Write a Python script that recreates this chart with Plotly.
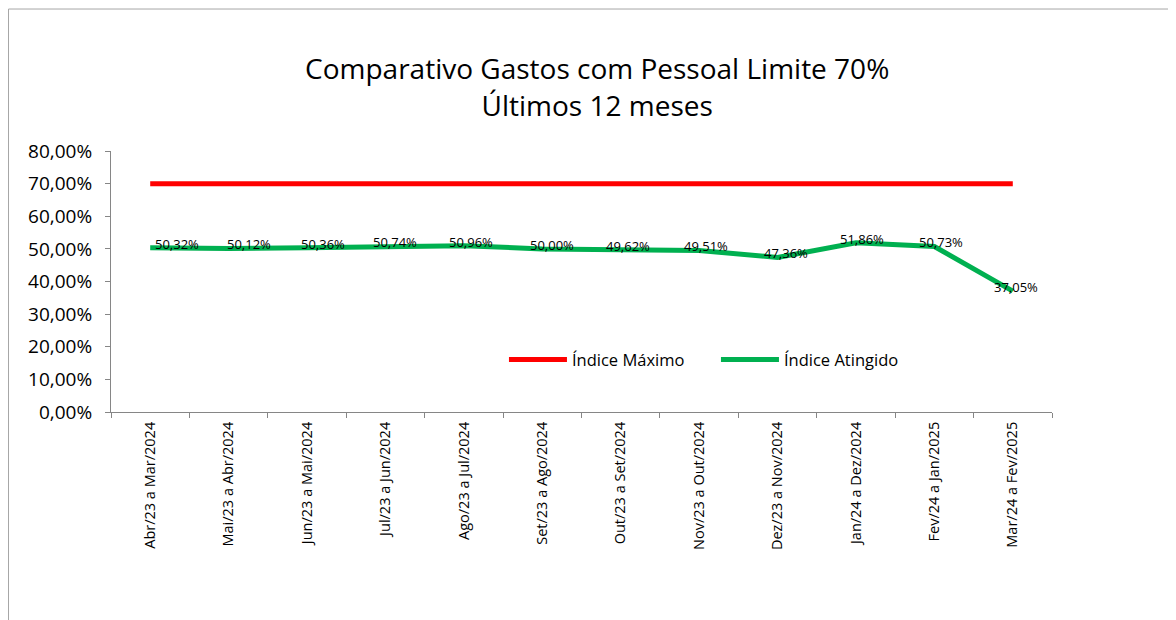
import plotly.graph_objects as go

categories = [
    "Abr/23 a Mar/2024", "Mai/23 a Abr/2024", "Jun/23 a Mai/2024", "Jul/23 a Jun/2024",
    "Ago/23 a Jul/2024", "Set/23 a Ago/2024", "Out/23 a Set/2024", "Nov/23 a Out/2024",
    "Dez/23 a Nov/2024", "Jan/24 a Dez/2024", "Fev/24 a Jan/2025", "Mar/24 a Fev/2025",
]
indice_maximo = [0.70] * 12
indice_atingido = [0.5032, 0.5012, 0.5036, 0.5074, 0.5096, 0.5000,
                   0.4962, 0.4951, 0.4736, 0.5186, 0.5073, 0.3705]
y_ticks = [0, 0.1, 0.2, 0.3, 0.4, 0.5, 0.6, 0.7, 0.8]

# style: horizontal nudge (px) of each data label, as placed in the original
label_nudge = [27, 20, 16, 10, 7, 10, 7, 7, 8, 6, 7, 3]

FONT = "Open Sans"

fig = go.Figure()
fig.add_trace(go.Scatter(
    x=categories, y=indice_maximo, mode="lines", name="Índice Máximo",
    line=dict(color="#FF0000", width=5), hoverinfo="skip",
))
fig.add_trace(go.Scatter(
    x=categories, y=indice_atingido, mode="lines", name="Índice Atingido",
    line=dict(color="#00B050", width=5), hoverinfo="skip",
))

for c, v, dx in zip(categories, indice_atingido, label_nudge):
    fig.add_annotation(
        x=c, y=v, text=f"{v*100:.2f}%".replace(".", ","), showarrow=False,
        xanchor="center", yanchor="middle", xshift=dx, yshift=4,
        font=dict(family=FONT, size=13, color="#000000"),
    )

fig.update_layout(
    width=1176, height=620,
    margin=dict(l=103, r=132, t=143, b=216),
    paper_bgcolor="white", plot_bgcolor="white",
    separators=",.",
    font=dict(family=FONT, color="#000000"),
    title=dict(
        text="Comparativo Gastos com Pessoal Limite 70%<br>Últimos 12 meses",
        x=0.501, xanchor="center", y=0.885, yanchor="middle",
        font=dict(family=FONT, size=28, color="#000000"),
    ),
    showlegend=True,
    legend=dict(
        orientation="h", x=0.4176, xanchor="left", y=0.2, yanchor="middle",
        font=dict(family=FONT, size=16.5, color="#000000"),
        bgcolor="rgba(0,0,0,0)", itemwidth=58,
        entrywidth=139, entrywidthmode="pixels",
    ),
    xaxis=dict(
        type="category", tickangle=-90, tickson="boundaries",
        range=[-0.5, 11.5],
        showline=True, linecolor="#868686", linewidth=1,
        ticks="outside", ticklen=5, tickcolor="#868686",
        showgrid=False, zeroline=False, ticklabelstandoff=3,
        tickfont=dict(family=FONT, size=14.5, color="#000000"),
    ),
    yaxis=dict(
        range=[0, 0.8], tickvals=y_ticks, tickformat=".2%",
        showline=True, linecolor="#868686", linewidth=1,
        ticks="outside", ticklen=5, tickcolor="#868686",
        showgrid=False, zeroline=False, ticklabelstandoff=9,
        tickfont=dict(family=FONT, size=19, color="#000000"),
    ),
    shapes=[dict(
        type="rect", xref="paper", yref="paper",
        x0=-0.1089, x1=1.2, y0=-1.0, y1=1.5440,
        line=dict(color="#A6A6A6", width=1), layer="below",
    )],
)

fig.write_html("out.html")
